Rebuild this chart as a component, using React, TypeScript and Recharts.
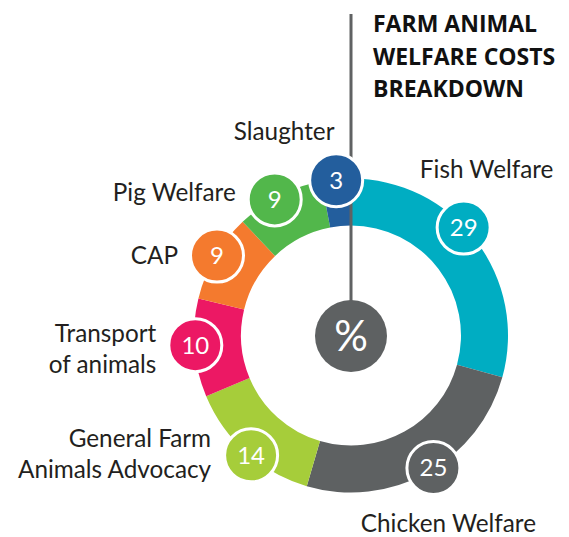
import React from 'react';
import { PieChart, Pie, Cell } from 'recharts';

const categories = ['Fish Welfare', 'Chicken Welfare', 'General Farm Animals Advocacy', 'Transport of animals', 'CAP', 'Pig Welfare', 'Slaughter'];
const values = [29, 25, 14, 10, 9, 9, 3];
const labelLines = [['Fish Welfare'], ['Chicken Welfare'], ['General Farm', 'Animals Advocacy'], ['Transport', 'of animals'], ['CAP'], ['Pig Welfare'], ['Slaughter']];
const titleLines = ['FARM ANIMAL', 'WELFARE COSTS', 'BREAKDOWN'];

const colors = ['#00adc2', '#5e6162', '#a6cd3a', '#ec1864', '#f47a2e', '#52b74b', '#235e9d'];

const data = categories.map((name, i) => ({ name, value: values[i] }));

const RAD = Math.PI / 180;
const CX = 351;
const CY = 335.5;
const BUBBLE_R = 156;
// clockwise nudge (degrees) of bubbles from mid angle
const nudgeCW = [-6.5, -2.8, -2, 1, 0.8, -2, 0];
// text placement relative to bubble centre
const placement = [
  { dx: 23, dy: -50, anchor: 'middle' },
  { dx: 15, dy: 64, anchor: 'middle' },
  { dx: -40, dy: -8, anchor: 'end' },
  { dx: -39, dy: -3, anchor: 'end' },
  { dx: -39, dy: 8, anchor: 'end' },
  { dx: -39, dy: 1.5, anchor: 'end' },
  { dx: -52, dy: -40, anchor: 'middle' },
];

const labelFont = 'Lato, "Open Sans", sans-serif';

function renderLabel(props: any) {
  const { cx, cy, midAngle, index, value } = props;
  const ang = midAngle - nudgeCW[index];
  const bx = cx + BUBBLE_R * Math.cos(-ang * RAD);
  const by = cy + BUBBLE_R * Math.sin(-ang * RAD);
  const p = placement[index];
  const lines = labelLines[index];
  return (
    <g key={`lbl-${index}`}>
      {index === 0 && (
        <g>
          <line x1={cx} y1={14} x2={cx} y2={cy - 30} stroke="#606263" strokeWidth={3} />
          <circle cx={cx} cy={cy + 0.5} r={36} fill="#5e6162" />
          <text x={cx} y={cy + 15} textAnchor="middle" fill="#ffffff" fontSize={42} fontFamily={labelFont}>%</text>
        </g>
      )}
      <circle cx={bx} cy={by} r={26.5} fill={colors[index]} stroke="#ffffff" strokeWidth={3} />
      <text x={bx} y={by + 8.5} textAnchor="middle" fill="#ffffff" fontSize={24} fontFamily={labelFont}>{value}</text>
      <text x={bx + p.dx} y={by + p.dy} textAnchor={p.anchor as any} fill="#231f20" fontSize={24.3} fontFamily={labelFont}>
        {lines.map((l, i) => (
          <tspan key={i} x={bx + p.dx} dy={i === 0 ? 0 : 31}>{l}</tspan>
        ))}
      </text>
    </g>
  );
}

export default function App() {
  return (
    <div style={{ position: 'absolute', left: 0, top: 0, width: 569, height: 537, background: '#ffffff' }}>
      <PieChart width={569} height={537} margin={{ top: 0, right: 0, bottom: 0, left: 0 }}>
        <Pie
          data={data}
          dataKey="value"
          nameKey="name"
          cx={CX}
          cy={CY}
          innerRadius={110}
          outerRadius={157}
          startAngle={90}
          endAngle={-270}
          stroke="none"
          isAnimationActive={false}
          labelLine={false}
          label={renderLabel}
        >
          {data.map((d, i) => (
            <Cell key={d.name} fill={colors[i]} />
          ))}
        </Pie>
        <text x={373} y={32} fontFamily='"Open Sans", sans-serif' fontWeight={700} fontSize={23} fill="#111111">
          {titleLines.map((t, i) => (
            <tspan key={t} x={373} dy={i === 0 ? 0 : 32.5}>{t}</tspan>
          ))}
        </text>
      </PieChart>
    </div>
  );
}
